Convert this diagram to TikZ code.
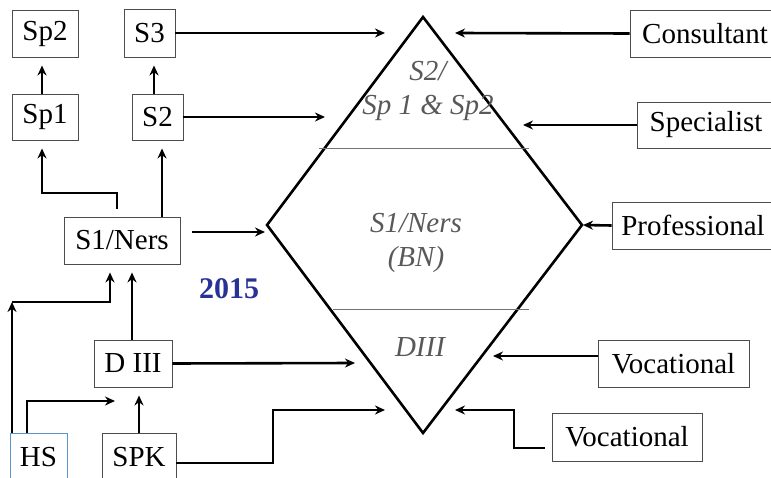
\documentclass[tikz,border=0pt]{standalone}
\usepackage{fontspec}
\setmainfont{Liberation Serif}
\usetikzlibrary{arrows.meta}
\definecolor{yearblue}{RGB}{40,50,150}
\definecolor{hsblue}{RGB}{90,150,200}
\tikzset{
  box/.style={draw=black!70, line width=0.9pt, rectangle, inner sep=0pt,
              font=\fontsize{29}{31}\selectfont},
  arr/.style={line width=2.6pt, -{Stealth[length=10pt,width=9pt]}},
  level/.style={font=\fontsize{29}{34}\selectfont\itshape, text=black!65, align=center},
  divider/.style={draw=black!55, line width=0.9pt}
}
\begin{document}
\begin{tikzpicture}[x=1pt,y=-1pt]
\useasboundingbox (0,0) rectangle (771,478);
\clip (0,0) rectangle (771,478);

% left-hand ladder of qualifications
\node[box, minimum width=66, minimum height=47] (sp2) at (45,33.5) {Sp2};
\node[box, minimum width=51, minimum height=48] (s3) at (149.5,33) {S3};
\node[box, minimum width=66, minimum height=46] (sp1) at (45,117) {Sp1};
\node[box, minimum width=51, minimum height=46] (s2) at (157.5,117) {S2};
\node[box, minimum width=116, minimum height=47] (s1) at (122,240.5) {S1/Ners};
\node[box, minimum width=78, minimum height=47] (d3) at (133,363.5) {D III};
\node[box, draw=hsblue, minimum width=57, minimum height=48] (hs) at (38.5,457) {HS};
\node[box, minimum width=74, minimum height=48] (spk) at (139,457) {SPK};

% right-hand competence levels
\node[box, minimum width=150, minimum height=47] (cons) at (705,33.5) {Consultant};
\node[box, minimum width=138, minimum height=46] (spec) at (706,125) {Specialist};
\node[box, minimum width=162, minimum height=47] (prof) at (693,225.5) {Professional};
\node[box, minimum width=151, minimum height=47] (voc1) at (673.5,363.5) {Vocational};
\node[box, minimum width=150, minimum height=48] (voc2) at (627,437) {Vocational};

% the diamond
\coordinate (dT) at (423,17);
\coordinate (dL) at (267,225);
\coordinate (dR) at (582,225);
\coordinate (dB) at (423,433);
\draw[line width=2.6pt, line join=miter] (dT) -- (dR) -- (dB) -- (dL) -- cycle;
\coordinate (div1a) at (319,148);
\coordinate (div1b) at (529,148);
\coordinate (div2a) at (333,309);
\coordinate (div2b) at (529,309);
\draw[divider] (div1a) -- (div1b);
\draw[divider] (div2a) -- (div2b);
\node[level] (top) at (428,91) {S2/\\Sp 1 \& Sp2};
\node[level] (mid) at (416,243) {S1/Ners\\(BN)};
\node[level] (low) at (420,347) {DIII};

\node[font=\fontsize{30}{32}\selectfont\bfseries, text=yearblue] (year) at (229,289) {2015};

% free ends of the connectors
\coordinate (inS3) at (385,33);
\coordinate (inS2) at (325,117);
\coordinate (s1Out) at (192,232);
\coordinate (inS1) at (265,232);
\coordinate (inD3) at (355,363);
\coordinate (inSPK) at (385,410);
\coordinate (inCons) at (455,33);
\coordinate (inSpec) at (523,125);
\coordinate (inProf) at (583,225);
\coordinate (inVoc1) at (493,356);
\coordinate (inVoc2) at (455,410);
\coordinate (hsCorner) at (12,302);
\coordinate (hsD3) at (115,401);
\coordinate (s1Up) at (117,209);
\coordinate (voc2Out) at (545,448);

% upward progression
\draw[arr, shorten >=8pt] (sp1.north -| 42,0) -- (sp2.south -| 42,0);
\draw[arr, shorten >=8pt] (s2.north -| 154,0) -- (s3.south -| 154,0);
\draw[arr] (s1Up) -- (117,193) -| ([yshift=-8pt]sp1.south -| 42,0);
\draw[arr, shorten >=8pt] (s1.north -| 162,0) -- (s2.south -| 162,0);
\draw[arr, shorten >=8pt] (d3.north -| 132,0) -- (s1.south -| 132,0);
\draw[arr] (hs.north -| 12,0) -- (hsCorner);
\draw[arr, shorten >=8pt] (hsCorner) -| (s1.south -| 110,0);
\draw[arr] (hs.north -| 27,0) |- (hsD3);
\draw[arr, shorten >=8pt] (spk.north) -- (d3.south -| spk.north);

% into the diamond from the left
\draw[arr] (s3.east) -- (inS3);
\draw[arr] (s2.east) -- (inS2);
\draw[arr] (s1Out) -- (inS1);
\draw[arr] (d3.east) -- (inD3);
\draw[arr] (spk.east |- 0,463) -- (273,463) |- (inSPK);

% into the diamond from the right
\draw[arr] (cons.west) -- (inCons);
\draw[arr] (spec.west) -- (inSpec);
\draw[arr] (prof.west) -- (inProf);
\draw[arr] (voc1.west |- inVoc1) -- (inVoc1);
\draw[arr] (voc2Out) -- (514,448) |- (inVoc2);
\end{tikzpicture}
\end{document}
